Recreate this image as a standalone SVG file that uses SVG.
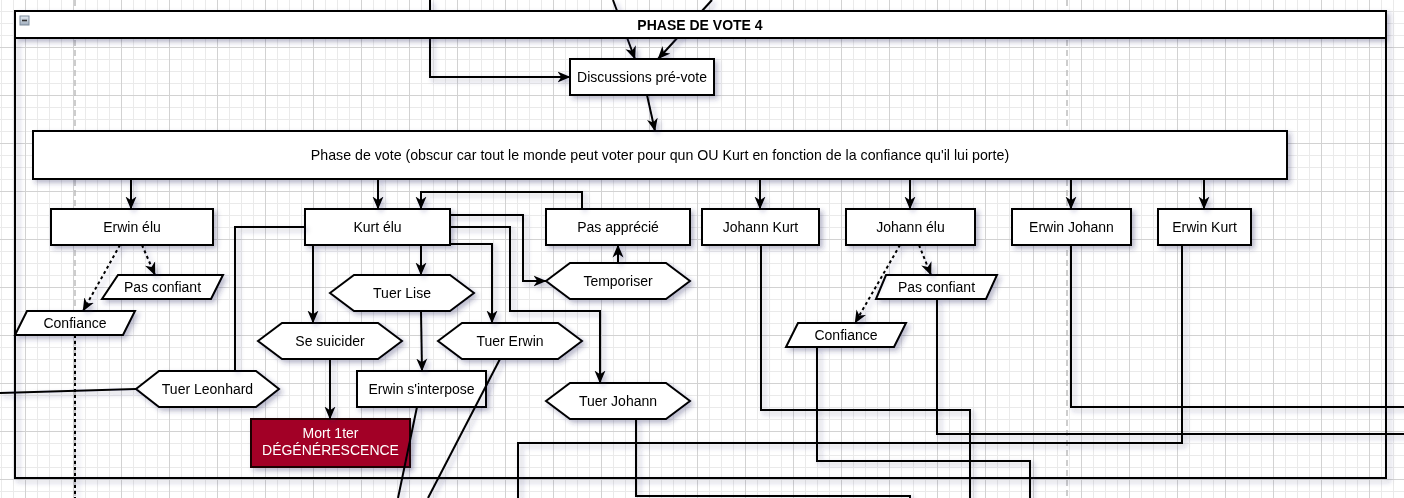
<svg xmlns="http://www.w3.org/2000/svg" width="1404" height="498" viewBox="0 0 1404 498">
<defs>
<style>
text{font-family:"Liberation Sans",Arial,Helvetica,sans-serif;font-size:14px;fill:#000;text-anchor:middle}
.n{fill:#fff;stroke:#000;stroke-width:2}
.e{fill:none;stroke:#000;stroke-width:2}
.d{stroke-dasharray:3,3}
.a{marker-end:url(#arr)}
.pb{stroke:#bdbdbd;stroke-width:1.5;stroke-dasharray:6,4;fill:none}
</style>
<pattern id="gmin" width="12" height="12" x="1" y="11" patternUnits="userSpaceOnUse">
<path d="M0,0.5H12M0.5,0V12" fill="none" stroke="#eaeaea" stroke-width="1"/>
</pattern>
<pattern id="gmaj" width="48" height="48" x="25" y="47" patternUnits="userSpaceOnUse">
<path d="M0,0.5H48M0.5,0V48" fill="none" stroke="#d2d2d2" stroke-width="1"/>
</pattern>
<marker id="arr" viewBox="0 0 13 12" refX="12.5" refY="6" markerWidth="13" markerHeight="12" orient="auto" markerUnits="userSpaceOnUse">
<path d="M0,0.5 L13,6 L0,11.5 L3.8,6 Z" fill="#000"/>
</marker>
<filter id="sh" filterUnits="userSpaceOnUse" x="-20" y="-20" width="1450" height="540">
<feDropShadow dx="3" dy="3" stdDeviation="2.4" flood-color="#2a2a60" flood-opacity="0.32"/>
</filter>
<linearGradient id="ic" x1="0" y1="0" x2="0" y2="1">
<stop offset="0" stop-color="#e4eaf1"/><stop offset="1" stop-color="#9fadbd"/>
</linearGradient>
</defs>
<rect width="1404" height="498" fill="#fff"/>
<rect width="1404" height="498" fill="url(#gmin)"/>
<rect width="1404" height="498" fill="url(#gmaj)"/>
<path class="pb" d="M75,0V498M1067,0V498"/>

<g id="incoming" filter="url(#sh)">
<path class="e a" d="M430,0V77H570"/>
<path class="e a" d="M613,0L635,59"/>
<path class="e a" d="M712,0L658,59"/>
</g>

<g id="container" filter="url(#sh)">
<rect x="15" y="11" width="1371" height="467" fill="none" stroke="#000" stroke-width="2"/>
<rect x="15" y="11" width="1371" height="27" fill="#fff" stroke="#000" stroke-width="2"/>
<rect x="20" y="16" width="9" height="9" fill="url(#ic)" stroke="#7d8b9b" stroke-width="1"/>
<path d="M22,20.5H27" stroke="#333" stroke-width="1.6"/>
<text x="700" y="30" style="font-weight:bold">PHASE DE VOTE 4</text>
</g>

<g id="nodes" filter="url(#sh)">
<g id="discussions"><rect class="n" x="570" y="59" width="144" height="36"/><text x="642" y="82">Discussions pré-vote</text></g>
<g id="phasevote"><rect class="n" x="33" y="131" width="1254" height="48"/><text x="660" y="160" style="font-size:14.2px">Phase de vote (obscur car tout le monde peut voter pour qun OU Kurt en fonction de la confiance qu'il lui porte)</text></g>
<g id="erwinelu"><rect class="n" x="51" y="209" width="162" height="36"/><text x="132" y="232">Erwin élu</text></g>
<g id="kurtelu"><rect class="n" x="305" y="209" width="145" height="36"/><text x="377.5" y="232">Kurt élu</text></g>
<g id="pasapprecie"><rect class="n" x="546" y="209" width="144" height="36"/><text x="618" y="232">Pas apprécié</text></g>
<g id="johannkurt"><rect class="n" x="702" y="209" width="117" height="36"/><text x="760.5" y="232">Johann Kurt</text></g>
<g id="johannelu"><rect class="n" x="846" y="209" width="129" height="36"/><text x="910.5" y="232">Johann élu</text></g>
<g id="erwinjohann"><rect class="n" x="1012" y="209" width="119" height="36"/><text x="1071.5" y="232">Erwin Johann</text></g>
<g id="erwinkurt"><rect class="n" x="1158" y="209" width="93" height="36"/><text x="1204.5" y="232">Erwin Kurt</text></g>
<g id="pasconfiantL"><polygon class="n" points="118,275 223,275 211,299 102,299"/><text x="162.5" y="292">Pas confiant</text></g>
<g id="confianceL"><polygon class="n" points="27,311 135,311 123,335 15,335"/><text x="75" y="328">Confiance</text></g>
<g id="pasconfiantR"><polygon class="n" points="886,275 997,275 986,299 876,299"/><text x="936.5" y="292">Pas confiant</text></g>
<g id="confianceR"><polygon class="n" points="798,323 906,323 894,347 786,347"/><text x="846" y="340">Confiance</text></g>
<g id="tuerlise"><polygon class="n" points="330,293 354,275 450,275 474,293 450,311 354,311"/><text x="402" y="298">Tuer Lise</text></g>
<g id="sesuicider"><polygon class="n" points="258,341 282,323 378,323 402,341 378,359 282,359"/><text x="330" y="346">Se suicider</text></g>
<g id="tuererwin"><polygon class="n" points="438,341 462,323 558,323 582,341 558,359 462,359"/><text x="510" y="346">Tuer Erwin</text></g>
<g id="temporiser"><polygon class="n" points="546,281 570,263 666,263 690,281 666,299 570,299"/><text x="618" y="286">Temporiser</text></g>
<g id="tuerleonhard"><polygon class="n" points="136,389 159,371 256,371 279,389 256,407 159,407"/><text x="207.5" y="394">Tuer Leonhard</text></g>
<g id="erwininterpose"><rect class="n" x="357" y="371" width="129" height="36"/><text x="421.5" y="394">Erwin s'interpose</text></g>
<g id="tuerjohann"><polygon class="n" points="546,401 570,383 666,383 690,401 666,419 570,419"/><text x="618" y="406">Tuer Johann</text></g>
<g id="mort"><rect x="251" y="419" width="159" height="48" fill="#a20025" stroke="#1a0005" stroke-width="2"/><text x="330.5" y="438" style="fill:#fff">Mort 1ter</text><text x="330.5" y="455" style="fill:#fff">DÉGÉNÉRESCENCE</text></g>
</g>

<g id="connectors" filter="url(#sh)">
<path class="e a" d="M647,95L655,131"/>
<path class="e a" d="M131,179V209"/>
<path class="e a" d="M378,179V209"/>
<path class="e a" d="M582,209V192H421V209"/>
<path class="e a" d="M760,179V209"/>
<path class="e a" d="M910,179V209"/>
<path class="e a" d="M1071,179V209"/>
<path class="e a" d="M1204,179V209"/>
<path class="e d a" d="M120,245L83,311"/>
<path class="e d a" d="M142,245L155,275"/>
<path class="e d a" d="M900,245L855,323"/>
<path class="e d a" d="M919,245L931,275"/>
<path class="e d" d="M75,335V498"/>
<path class="e" d="M305,227H235V371"/>
<path class="e" d="M0,393L136,389"/>
<path class="e a" d="M313,245V323"/>
<path class="e a" d="M421,245V275"/>
<path class="e a" d="M421,311L422,371"/>
<path class="e a" d="M330,359V419"/>
<path class="e" d="M417,407L398,498"/>
<path class="e" d="M500,359L428,498"/>
<path class="e a" d="M450,215H523V281H546"/>
<path class="e a" d="M450,227H510V311H600V383"/>
<path class="e a" d="M450,244H492V323"/>
<path class="e a" d="M618,263V245"/>
<path class="e" d="M761,245V410H970V498"/>
<path class="e" d="M817,347V461H1030V498"/>
<path class="e" d="M937,299V434H1404"/>
<path class="e" d="M1071,245V407H1404"/>
<path class="e" d="M1182,245V443H518V498"/>
<path class="e" d="M636,419V496H910V498"/>
</g>
</svg>
